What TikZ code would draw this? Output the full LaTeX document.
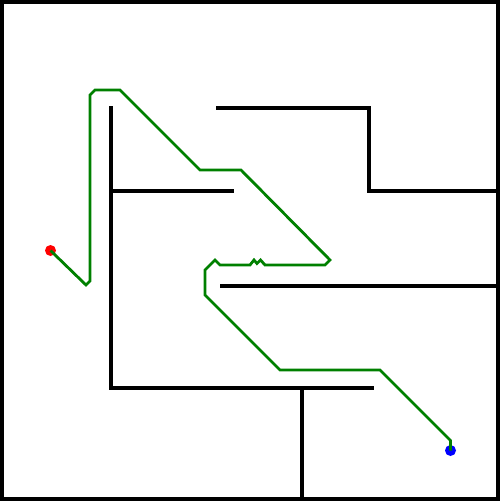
\documentclass[tikz,border=0pt]{standalone}
\definecolor{pathgreen}{RGB}{0,128,0}
\begin{document}
\begin{tikzpicture}[x=1pt,y=-1pt,
  wall/.style={line width=4.5pt,black},
  frame/.style={line width=3.8pt,black},
  route/.style={line width=2.8pt,pathgreen,line join=miter},
  dot/.style={circle,inner sep=0pt,minimum size=11pt}]
\useasboundingbox (0,0) rectangle (500,501);
\fill[white] (0,0) rectangle (500,501);
% outer frame
\draw[frame] (1.9,1.9) rectangle (498.1,499.1);
% walls
\draw[wall] (111,106) -- (111,388) -- (374,388);
\draw[wall] (302,388) -- (302,499);
\draw[wall] (111,191) -- (234,191);
\draw[wall] (216,108) -- (369,108) -- (369,191) -- (498,191);
\draw[wall] (220,286) -- (498,286);
% endpoints
\node[dot,fill=red] (start) at (50.5,250.5) {};
\node[dot,fill=blue] (goal) at (450.5,450.5) {};
% route
\draw[route] (start.center) -- (86,285) -- (90,281) -- (90,95) -- (95,90) -- (120,90)
  -- (200,170) -- (241,170) -- (330,260) -- (325,265) -- (265,265) -- (260.5,260)
  -- (257,263.5) -- (254,260) -- (250,265) -- (220,265) -- (215,260) -- (205,270)
  -- (205,295) -- (280,370) -- (380,370) -- (450.5,440.5) -- (goal.center);
\end{tikzpicture}
\end{document}
